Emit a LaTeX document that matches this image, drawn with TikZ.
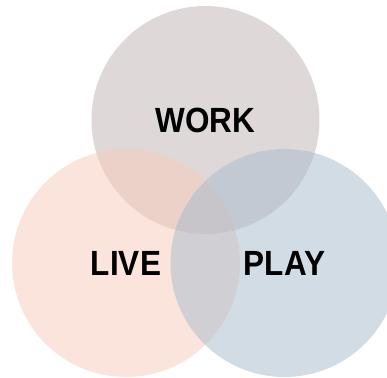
\documentclass[tikz,border=0pt]{standalone}
\usepackage{fontspec}
\newfontfamily\labfont[FakeStretch=0.9]{Liberation Sans}
\definecolor{workc}{RGB}{191,181,179}
\definecolor{livec}{RGB}{249,203,185}
\definecolor{playc}{RGB}{167,187,205}
\begin{document}
\begin{tikzpicture}[x=1pt,y=1pt,
  venn/.style={circle,minimum size=228pt,inner sep=0pt,fill opacity=0.5},
  lab/.style={font=\labfont\bfseries\fontsize{35}{40}\selectfont,text=black,inner sep=0pt}]
\useasboundingbox (0,0) rectangle (387,377);
\clip (0,0) rectangle (387,377);
\fill[white] (0,0) rectangle (387,377);
\node[venn,fill=workc] (work) at (205.5,257) {};
\node[venn,fill=livec] (live) at (126,114) {};
\node[venn,fill=playc] (play) at (284.5,114) {};
\node[lab] (tw) at (work.center) {WORK};
\node[lab] (tl) at (live.center) {LIVE};
\node[lab] (tp) at (play.center) {PLAY};
\end{tikzpicture}
\end{document}
